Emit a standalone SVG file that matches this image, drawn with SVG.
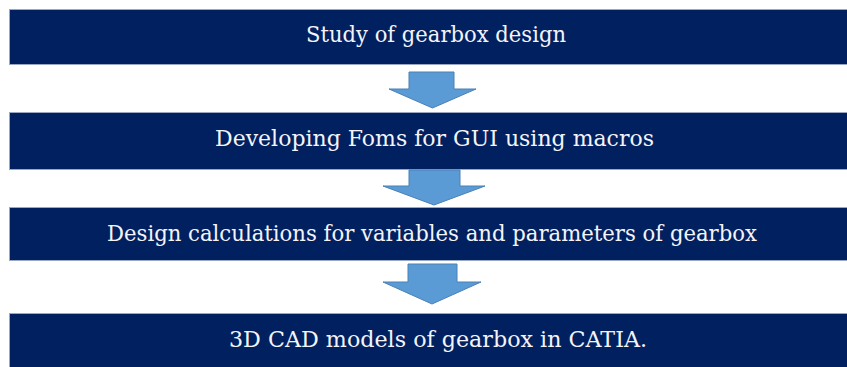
<svg xmlns="http://www.w3.org/2000/svg" width="847" height="367" viewBox="0 0 847 367">
  <style>
    .box { fill: #002060; stroke: #9aa8c4; stroke-width: 1; }
    .label { fill: #f4f4f8; font-family: "DejaVu Serif", "Liberation Serif", serif; font-size: 23px; text-anchor: middle; }
    .arrow { fill: #5b9bd5; stroke: #4a80b4; stroke-width: 1; stroke-linejoin: miter; }
  </style>
  <rect width="847" height="367" fill="#ffffff"/>

  <g id="step1">
    <rect class="box" x="9.5" y="9.5" width="850" height="55"/>
    <text class="label" x="436" y="42" textLength="260" lengthAdjust="spacingAndGlyphs">Study of gearbox design</text>
  </g>

  <g id="step2">
    <rect class="box" x="9.5" y="112.5" width="850" height="57"/>
    <text class="label" x="434.5" y="146" textLength="439" lengthAdjust="spacingAndGlyphs">Developing Foms for GUI using macros</text>
  </g>

  <g id="step3">
    <rect class="box" x="9.5" y="207.5" width="850" height="53"/>
    <text class="label" x="432" y="241" textLength="650" lengthAdjust="spacingAndGlyphs">Design calculations for variables and parameters of gearbox</text>
  </g>

  <g id="step4">
    <rect class="box" x="9.5" y="313.5" width="850" height="60"/>
    <text class="label" x="438" y="347" textLength="418" lengthAdjust="spacingAndGlyphs">3D CAD models of gearbox in CATIA.</text>
  </g>

  <g id="connectors">
    <polygon class="arrow" points="409,72 454,72 454,89 476,89 432.5,108 389,89 409,89"/>
    <polygon class="arrow" points="409,170 460,170 460,186 485,186 434,205 383,186 409,186"/>
    <polygon class="arrow" points="408,264 457,264 457,282 481,282 432,304 383,282 408,282"/>
  </g>
</svg>
